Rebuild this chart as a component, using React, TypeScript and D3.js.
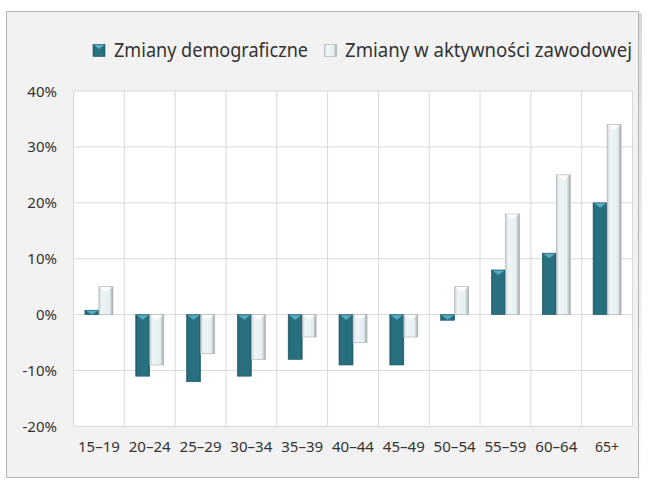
import React from "react";
import * as d3 from "d3";

const categories = ["15–19", "20–24", "25–29", "30–34", "35–39", "40–44", "45–49", "50–54", "55–59", "60–64", "65+"];
const demo = [0.8, -11, -12, -11, -8, -9, -9, -1, 8, 11, 20];
const activity = [5, -9, -7, -8, -4, -5, -4, 5, 18, 25, 34];
const yTicks = [-20, -10, 0, 10, 20, 30, 40];
const seriesNames = ["Zmiany demograficzne", "Zmiany w aktywności zawodowej"];

const W = 648, H = 486;
const plot = { l: 73.5, r: 632.5, t: 91, b: 426.5 };
const FONT = "'Noto Sans', 'Open Sans', sans-serif";
const TXT = "#333333";

export default function App() {
  const x = d3.scaleBand<string>().domain(categories).range([plot.l, plot.r]).paddingInner(0).paddingOuter(0);
  const y = d3.scaleLinear().domain([-20, 40]).range([plot.b, plot.t]);
  const bw = 14;

  const bar = (v: number, cx: number, kind: 0 | 1, key: string) => {
    const y0 = y(0), y1 = y(v);
    const top = Math.min(y0, y1), h = Math.abs(y1 - y0);
    const xl = kind === 0 ? cx - bw : cx;
    const tri = Math.min(5, h);
    return (
      <g key={key}>
        <rect x={xl} y={top} width={bw} height={Math.max(h, 0.5)} fill={kind === 0 ? "url(#gTeal)" : "url(#gLight)"} stroke={kind === 0 ? "#1f5a68" : "#a9aeb0"} strokeWidth={0.6} />
        {h > 3 && (
          <path
            d={`M${xl + 1},${top + 0.5} L${xl + bw - 1},${top + 0.5} L${xl + bw / 2},${top + tri}Z`}
            fill={kind === 0 ? "#5cb3c9" : "#ffffff"}
            opacity={kind === 0 ? 0.9 : 1}
          />
        )}
      </g>
    );
  };

  return (
    <svg width={W} height={H} style={{ position: "absolute", left: 0, top: 0 }}>
      <defs>
        <linearGradient id="gTeal" x1="0" x2="1" y1="0" y2="0">
          <stop offset="0" stopColor="#1f5d6c" />
          <stop offset="0.15" stopColor="#286f80" />
          <stop offset="0.85" stopColor="#286f80" />
          <stop offset="1" stopColor="#1f5d6c" />
        </linearGradient>
        <linearGradient id="gLight" x1="0" x2="1" y1="0" y2="0">
          <stop offset="0" stopColor="#c9ced0" />
          <stop offset="0.2" stopColor="#eef5f7" />
          <stop offset="0.75" stopColor="#e6eff2" />
          <stop offset="1" stopColor="#a3a9ab" />
        </linearGradient>
        <linearGradient id="gShadow" x1="0" x2="0" y1="0" y2="1">
          <stop offset="0" stopColor="#d0d0d0" />
          <stop offset="1" stopColor="#ffffff" />
        </linearGradient>
      </defs>
      <rect x={0} y={0} width={W} height={H} fill="#ffffff" />
      <rect x={8} y={13} width={634} height={472} fill="url(#gShadow)" opacity={0.8} />
      <rect x={6.5} y={11.5} width={632} height={466} fill="#f2f2f2" stroke="#b4b4b4" strokeWidth={1} />
      <rect x={plot.l} y={plot.t} width={plot.r - plot.l} height={plot.b - plot.t} fill="#ffffff" />
      {yTicks.map((t) => (
        <line key={"h" + t} x1={plot.l} x2={plot.r} y1={y(t)} y2={y(t)} stroke="#d9d9d9" strokeWidth={1} />
      ))}
      {categories.map((c) => (
        <line key={"v" + c} x1={x(c)!} x2={x(c)!} y1={plot.t} y2={plot.b} stroke="#d9d9d9" strokeWidth={1} />
      ))}
      <line x1={plot.r} x2={plot.r} y1={plot.t} y2={plot.b} stroke="#d9d9d9" strokeWidth={1} />
      {yTicks.map((t) => (
        <text key={"yl" + t} x={57} y={y(t) + 5.5} textAnchor="end" fontFamily={FONT} fontSize={15} fill={TXT}>
          {t + "%"}
        </text>
      ))}
      {categories.map((c) => (
        <text key={"xl" + c} x={x(c)! + x.bandwidth() / 2} y={452} textAnchor="middle" fontFamily={FONT} fontSize={14} fill={TXT}
          textLength={c.length === 5 ? 42 : undefined} lengthAdjust="spacingAndGlyphs">
          {c}
        </text>
      ))}
      {categories.map((c, i) => {
        const cx = x(c)! + x.bandwidth() / 2;
        return (
          <g key={"b" + c}>
            {bar(demo[i], cx, 0, "d" + c)}
            {bar(activity[i], cx, 1, "a" + c)}
          </g>
        );
      })}
      <g>
        <rect x={93} y={44.5} width={12} height={12} fill="url(#gTeal)" stroke="#1f5a68" strokeWidth={0.6} />
        <path d="M94,45 L104,45 L99,49Z" fill="#5cb3c9" />
        <text x={114} y={57} fontFamily={FONT} fontSize={19} fill={TXT} textLength={194} lengthAdjust="spacingAndGlyphs">{seriesNames[0]}</text>
        <rect x={324.5} y={44.5} width={12} height={12} fill="url(#gLight)" stroke="#a9aeb0" strokeWidth={0.6} />
        <text x={345} y={57} fontFamily={FONT} fontSize={19} fill={TXT} textLength={287} lengthAdjust="spacingAndGlyphs">{seriesNames[1]}</text>
      </g>
    </svg>
  );
}
